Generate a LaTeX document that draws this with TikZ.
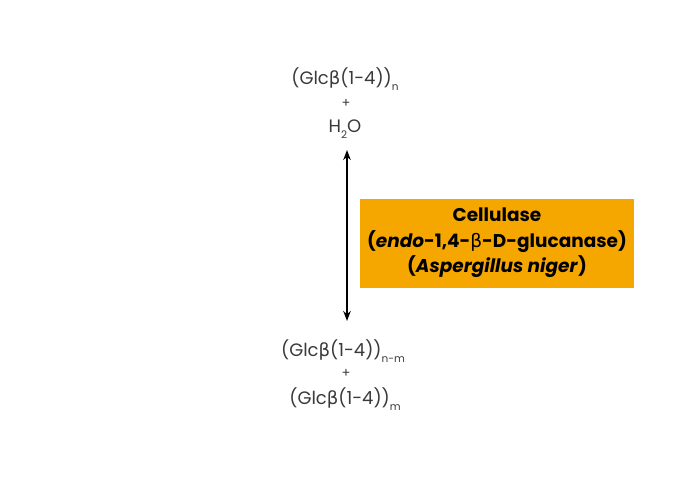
\documentclass[tikz,border=0pt]{standalone}
\usepackage{fontspec}
\setmainfont{Poppins}
\newfontfamily\grk{DejaVu Sans}
\usepackage{tikz}
\usetikzlibrary{arrows.meta}

\definecolor{enzorange}{HTML}{F5A700}
\definecolor{molgray}{HTML}{3A3A3A}
\newcommand{\idx}[1]{\raisebox{-0.6ex}{\fontsize{10.5}{10.5}\selectfont #1}}
\newcommand{\bet}{{\grk\mdseries β}}

\tikzset{
  mol/.style={text=molgray, font=\fontsize{18}{20}\selectfont, inner sep=0pt},
  plus/.style={text=molgray, font=\fontsize{13}{13}\selectfont, inner sep=0pt},
  enzyme/.style={fill=enzorange, minimum width=274pt, minimum height=89pt, align=center,
    font=\fontsize{18.5}{25.5}\selectfont\bfseries, inner sep=0pt}
}

\begin{document}
\begin{tikzpicture}[x=1pt, y=-1pt]
            % Fondo
            \useasboundingbox[fill=white] (0,0) rectangle (690,480);

            % Sustratos
            \node[mol] (sub) at (345,79) {(Glc\bet(1-4))\idx{n}};
            \node[plus] (plusA) at (346,103) {+};
            \node[mol] (water) at (345,129) {H\idx{2}O};

            % Productos
            \node[mol] (prodA) at (343,351) {(Glc\bet(1-4))\idx{n-m}};
            \node[plus] (plusB) at (346,373) {+};
            \node[mol] (prodB) at (345,399) {(Glc\bet(1-4))\idx{m}};

            % Enzima
            \node[enzyme] (enz) at (497,243) {Cellulase\\(\textit{endo}-1,4-\bet-D-glucanase)\\(\textit{Aspergillus niger})};

            % Flecha
            \coordinate (top) at (347,150);
            \coordinate (bot) at (347,321);
            \draw[black, line width=2.2pt, {Stealth[length=10pt,width=7.5pt]}-{Stealth[length=10pt,width=7.5pt]}] (top) -- (bot);
        \end{tikzpicture}
\end{document}
